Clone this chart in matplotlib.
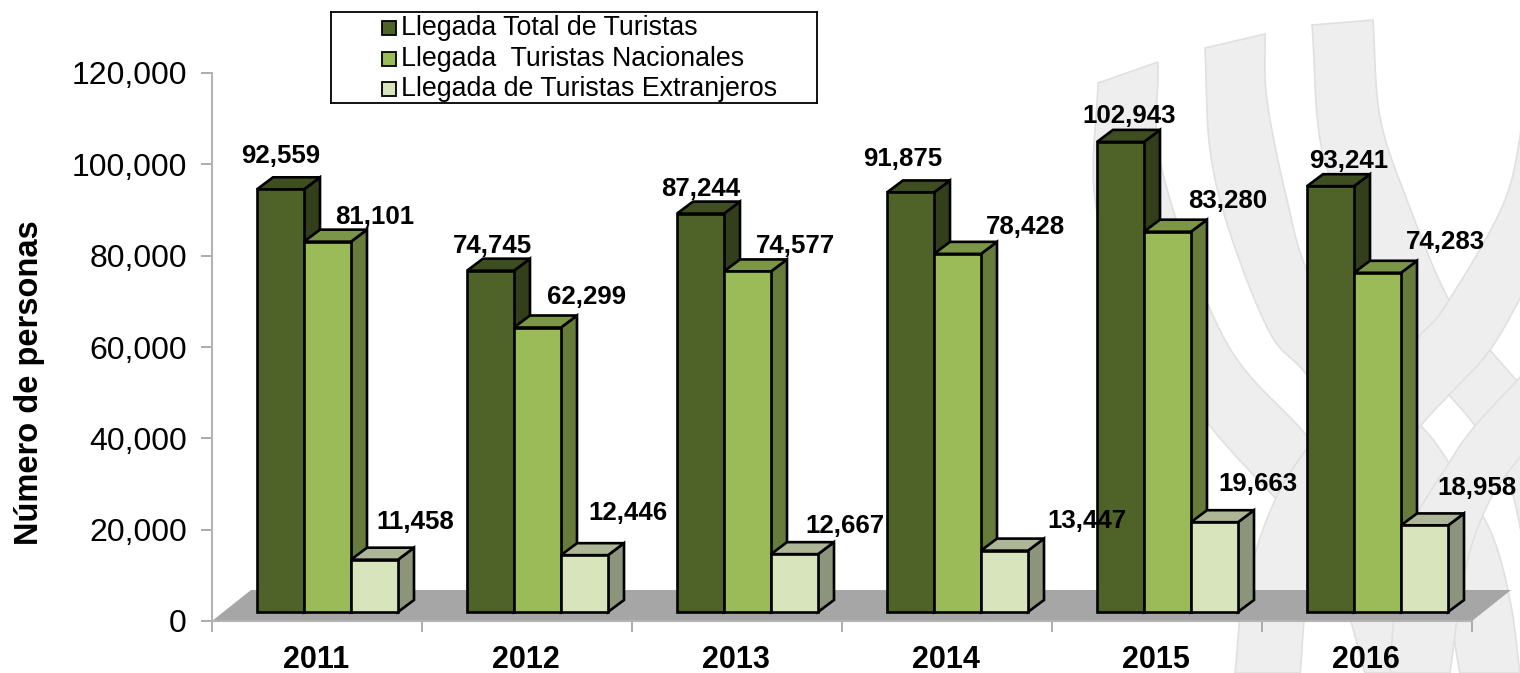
import numpy as np
import matplotlib
matplotlib.use('Agg')
import matplotlib.pyplot as plt
from matplotlib.patches import Rectangle
from matplotlib.ticker import FuncFormatter

plt.rcParams['font.family'] = ['Liberation Sans', 'DejaVu Sans']

years = ['2011', '2012', '2013', '2014', '2015', '2016']
total = [92559, 74745, 87244, 91875, 102943, 93241]
nacionales = [81101, 62299, 74577, 78428, 83280, 74283]
extranjeros = [11458, 12446, 12667, 13447, 19663, 18958]
names = ['Llegada Total de Turistas', 'Llegada  Turistas Nacionales', 'Llegada de Turistas Extranjeros']
face_colors = ['#4f6228', '#9bbb59', '#d8e4bc']
top_colors = ['#3f4e20', '#7c9647', '#adb696']
side_colors = ['#333f1a', '#677c3a', '#8c947b']

# label offsets from the top centre of each bar, in pixels
label_dx = [[0.5, 1.5, 0.5, -7.5, 8.5, 18.5],
            [47.5, 49.5, 47.5, 67.5, 60.5, 67.5],
            [40.5, 43.5, 50.5, 82.5, 43.5, 52.5]]
label_dy = [[33, 25, 25, 33, 25.5, 25],
            [25, 31, 25, 26.6, 31, 30.5],
            [37.6, 42, 28, 30, 38, 37]]

W, H = 1520, 673
fig = plt.figure(figsize=(W / 100, H / 100), dpi=100)


def px_rect(left, right, top, bottom):
    return [left / W, 1 - bottom / H, (right - left) / W, (bottom - top) / H]


def smooth(points, n=12):
    # catmull-rom through hand traced points
    p = np.array(points, dtype=float)
    p = np.vstack([2 * p[0] - p[1], p, 2 * p[-1] - p[-2]])
    out = []
    for i in range(1, len(p) - 2):
        for t in np.linspace(0, 1, n, endpoint=False):
            out.append(0.5 * (2 * p[i] + (p[i + 1] - p[i - 1]) * t
                              + (2 * p[i - 1] - 5 * p[i] + 4 * p[i + 1] - p[i + 2]) * t ** 2
                              + (3 * p[i] - p[i - 1] - 3 * p[i + 1] + p[i + 2]) * t ** 3))
    out.append(p[-2])
    return np.array(out)


# watermark behind everything, drawn in pixel coordinates
bg = fig.add_axes([0, 0, 1, 1], zorder=0)
bg.set_xlim(0, W)
bg.set_ylim(H, 0)
bg.axis('off')


def band(edge1, edge2):
    xy = np.vstack([smooth(edge1), smooth(edge2)])
    bg.fill(xy[:, 0], xy[:, 1], fc='#eeeeee', ec='#e0e0e0', lw=1.2)


band([(1158, 62), (1162, 170), (1225, 340), (1307, 436), (1380, 530), (1425, 673)],
     [(1365, 673), (1340, 590), (1300, 526), (1210, 426), (1130, 310), (1095, 200), (1098, 83)])
band([(1265, 34), (1267, 100), (1287, 200), (1310, 277), (1370, 375), (1423, 428), (1449, 463),
      (1490, 530), (1510, 600), (1520, 673)],
     [(1460, 673), (1440, 580), (1380, 470), (1307, 375), (1270, 333), (1230, 233), (1210, 150), (1205, 48)])
band([(1373, 20), (1380, 117), (1407, 200), (1449, 300), (1490, 350), (1525, 390)],
     [(1525, 550), (1507, 476), (1475, 426), (1449, 395), (1405, 345), (1360, 240), (1322, 150), (1312, 25)])
band([(1525, 108), (1505, 200), (1449, 300), (1420, 335), (1340, 410), (1280, 490), (1245, 590), (1235, 673)],
     [(1300, 673), (1310, 590), (1350, 510), (1423, 423), (1449, 395), (1490, 350), (1525, 290)])
band([(1525, 372), (1475, 426), (1449, 463), (1410, 530), (1395, 610), (1390, 673)],
     [(1450, 673), (1465, 570), (1490, 500), (1525, 450)])

ax = fig.add_axes(px_rect(212, 1472, 73, 621), zorder=1)
ax.patch.set_alpha(0)
ax.set_xlim(0, len(years))
ax.set_ylim(0, 120000)

# size of one pixel in data units
ux = len(years) / 1260
uy = 120000 / 548

bar_w = 47 * ux
depth_x, depth_y = 16 * ux, 12 * uy
base_x, base_y = 12 * ux, 9 * uy
floor_x, floor_y = 39 * ux, 31 * uy

ax.fill([0, 6, 6 + floor_x, floor_x], [0, 0, floor_y, floor_y], color='#a6a6a6', zorder=1, clip_on=False, lw=0)

series = [total, nacionales, extranjeros]
x = np.arange(len(years))
for i in range(len(years)):
    for s, values in enumerate(series):
        left = x[i] + 33 * ux + s * bar_w + base_x
        top = values[i] + base_y
        z = 3 + i * 3 + s
        ax.fill([left + bar_w, left + bar_w + depth_x, left + bar_w + depth_x, left + bar_w],
                [base_y, base_y + depth_y, top + depth_y, top],
                fc=side_colors[s], ec='black', lw=1.9, zorder=z, clip_on=False)
        ax.fill([left, left + depth_x, left + bar_w + depth_x, left + bar_w],
                [top, top + depth_y, top + depth_y, top],
                fc=top_colors[s], ec='black', lw=1.9, zorder=z, clip_on=False)
        ax.bar(left, values[i], bar_w, bottom=base_y, align='edge', color=face_colors[s],
               ec='black', lw=1.9, zorder=z, clip_on=False)

for s, values in enumerate(series):
    for i, v in enumerate(values):
        left = x[i] + 33 * ux + s * bar_w + base_x
        ax.annotate(f'{v:,}', (left + bar_w / 2, v + base_y),
                    xytext=(label_dx[s][i] * 0.72, label_dy[s][i] * 0.72), textcoords='offset points',
                    ha='center', va='center', fontsize=18.6, fontweight='bold', color='black',
                    zorder=40, annotation_clip=False)

for side in ['top', 'right']:
    ax.spines[side].set_visible(False)
for side in ['left', 'bottom']:
    ax.spines[side].set_color('#b3b3b3')
    ax.spines[side].set_linewidth(1.5)
ax.set_yticks(np.arange(0, 120001, 20000))
ax.yaxis.set_major_formatter(FuncFormatter(lambda v, p: f'{int(v):,}'))
ax.set_xticks(np.arange(0, 7))
ax.set_xticklabels([])
ax.tick_params(axis='y', labelsize=23, length=8, width=1.3, color='#a6a6a6', pad=10)
ax.tick_params(axis='x', length=8, width=1.3, color='#a6a6a6')
for i, y in enumerate(years):
    ax.text(x[i] + 0.5 - 1 * ux, -38.5 * uy, y, ha='center', va='center', fontsize=22, fontweight='bold', clip_on=False)

fig.text(30 / W, 1 - 383 / H, 'Número de personas', rotation=90, ha='center', va='center',
         fontsize=23.5, fontweight='bold')

# legend box, placed by hand as in the original
leg = fig.add_axes(px_rect(331, 817, 12, 103), zorder=5)
leg.set_xlim(331, 817)
leg.set_ylim(103, 12)
leg.set_xticks([])
leg.set_yticks([])
for sp in leg.spines.values():
    sp.set_linewidth(1.3)
for s, name in enumerate(names):
    yc = 28 + s * 30.5
    leg.add_patch(Rectangle((382, yc - 7), 14, 14, fc=face_colors[s], ec='black', lw=1.3))
    leg.text(401, yc, name, va='center', ha='left', fontsize=19.3)

fig.savefig('out.png', dpi=100)
